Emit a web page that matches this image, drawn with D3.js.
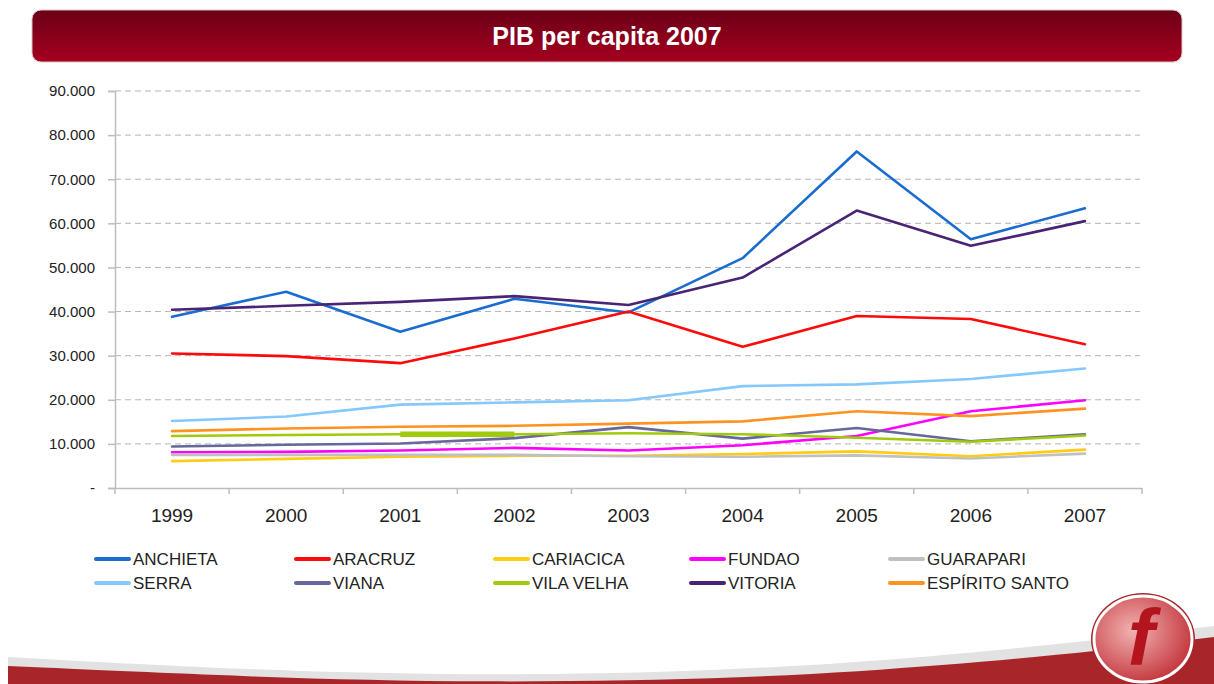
<!DOCTYPE html>
<html>
<head>
<meta charset="utf-8">
<script src="https://cdn.jsdelivr.net/npm/d3@7"></script>
<style>
  body { margin: 0; background: #fff; }
  svg { display: block; }
  text { font-family: Arial, "Liberation Sans", sans-serif; }
</style>
</head>
<body>
<div id="chart"></div>
<script>
var width = 1214,
    height = 684;

// PIB per capita (R$) by municipality
var years = ["1999", "2000", "2001", "2002", "2003", "2004", "2005", "2006", "2007"];
var yTicks = [0, 10000, 20000, 30000, 40000, 50000, 60000, 70000, 80000, 90000];

var anchieta      = [38800, 44500, 35400, 42900, 39800, 52100, 76300, 56400, 63400];
var aracruz       = [30500, 29900, 28300, 33900, 40000, 32000, 39000, 38300, 32600];
var cariacica     = [6100, 6600, 7100, 7300, 7300, 7700, 8300, 7200, 8700];
var fundao        = [8100, 8200, 8500, 9100, 8500, 9700, 11800, 17400, 19900];
var guarapari     = [7500, 7500, 7500, 7500, 7200, 7100, 7400, 6700, 7800];
var serra         = [15200, 16200, 18900, 19400, 19900, 23100, 23500, 24700, 27100];
var viana         = [9400, 9800, 10100, 11300, 13800, 11200, 13600, 10600, 12200];
var vilaVelha     = [11800, 12000, 12200, 12200, 12400, 12200, 11400, 10500, 11900];
var vitoria       = [40400, 41300, 42200, 43500, 41500, 47700, 62900, 54900, 60500];
var espiritoSanto = [12900, 13500, 13900, 14100, 14600, 15100, 17400, 16300, 18000];

var seriesNames = ["ANCHIETA", "ARACRUZ", "CARIACICA", "FUNDAO", "GUARAPARI",
                   "SERRA", "VIANA", "VILA VELHA", "VITORIA", "ESPÍRITO SANTO"];
var seriesValues = [anchieta, aracruz, cariacica, fundao, guarapari,
                    serra, viana, vilaVelha, vitoria, espiritoSanto];
var seriesColors = ["#1a6ccf", "#ff0a0a", "#ffcc11", "#ff00ff", "#c0c0c0",
                    "#85c8fb", "#66679a", "#9fcb0c", "#4a2474", "#ff9322"];

var svg = d3.select("#chart").append("svg")
    .attr("width", width)
    .attr("height", height);

svg.append("rect").attr("width", width).attr("height", height).attr("fill", "#fff");

var defs = svg.append("defs");

// title banner
var banner = defs.append("linearGradient").attr("id", "banner")
    .attr("x1", 0).attr("y1", 0).attr("x2", 0).attr("y2", 1);
banner.append("stop").attr("offset", "0%").attr("stop-color", "#6b0016");
banner.append("stop").attr("offset", "100%").attr("stop-color", "#a6001f");

svg.append("rect")
    .attr("x", 32).attr("y", 10)
    .attr("width", 1150).attr("height", 52)
    .attr("rx", 9)
    .attr("fill", "url(#banner)")
    .attr("stroke", "#d9c4c8")
    .attr("stroke-width", 1);

svg.append("text")
    .attr("x", 607)
    .attr("y", 45)
    .style("text-anchor", "middle")
    .style("font-weight", "bold")
    .style("font-size", "25px")
    .style("fill", "#fff")
    .text("PIB per capita 2007");

// scales
var x = d3.scaleBand().domain(years).range([115, 1142]);
var y = d3.scaleLinear().domain([0, 90000]).range([488, 91]);

var ptFormat = d3.formatLocale({ decimal: ",", thousands: ".", grouping: [3], currency: ["", ""] }).format(",.0f");

// dashed gridlines
svg.append("g")
  .selectAll("line")
  .data(yTicks.slice(1))
  .enter()
  .append("line")
    .attr("x1", 115)
    .attr("x2", 1140)
    .attr("y1", function (d) { return y(d); })
    .attr("y2", function (d) { return y(d); })
    .attr("stroke", "#b4b4b4")
    .attr("stroke-width", 1)
    .attr("stroke-dasharray", "6,4");

// y axis
var yAxis = svg.append("g")
    .attr("transform", "translate(115,0)")
    .call(d3.axisLeft(y)
      .tickValues(yTicks)
      .tickSize(7)
      .tickPadding(13)
      .tickFormat(function (d) { return d === 0 ? "-" : ptFormat(d); }));
yAxis.select(".domain").attr("stroke", "#bdbdbd").attr("stroke-width", 1.5);
yAxis.selectAll(".tick line").attr("stroke", "#bdbdbd").attr("stroke-width", 1.5);
yAxis.selectAll("text")
    .style("font-size", "15px")
    .style("fill", "#222")
    .style("font-family", "Arial, 'Liberation Sans', sans-serif");

// x axis
var xAxis = svg.append("g")
    .attr("transform", "translate(0,488)")
    .call(d3.axisBottom(x).tickSize(0).tickSizeOuter(0).tickPadding(21));
xAxis.select(".domain").attr("stroke", "#bdbdbd").attr("stroke-width", 1.5);
xAxis.selectAll("text")
    .style("font-size", "19px")
    .style("fill", "#222")
    .style("font-family", "Arial, 'Liberation Sans', sans-serif");

// category boundary ticks
svg.append("g")
  .selectAll("line")
  .data(years.concat(["end"]))
  .enter()
  .append("line")
    .attr("x1", function (d) { return d === "end" ? x.range()[1] : x(d); })
    .attr("x2", function (d) { return d === "end" ? x.range()[1] : x(d); })
    .attr("y1", 488)
    .attr("y2", 494)
    .attr("stroke", "#bdbdbd")
    .attr("stroke-width", 1.5);

// lines
var line = d3.line()
    .x(function (d, i) { return x(years[i]) + x.bandwidth() / 2; })
    .y(function (d) { return y(d); });

svg.append("g")
  .selectAll("path")
  .data(seriesValues)
  .enter()
  .append("path")
    .attr("d", line)
    .attr("fill", "none")
    .attr("stroke", function (d, i) { return seriesColors[i]; })
    .attr("stroke-width", 2.6)
    .attr("stroke-linejoin", "round")
    .attr("stroke-linecap", "round");

// the slide shows a thicker stretch of VILA VELHA between 2001 and 2002
var segLine = d3.line()
    .x(function (d, i) { return x(years[i + 2]) + x.bandwidth() / 2; })
    .y(function (d) { return y(d); });
svg.append("path")
    .attr("d", segLine(vilaVelha.slice(2, 4)))
    .attr("fill", "none")
    .attr("stroke", seriesColors[7])
    .attr("stroke-width", 5.5);

// legend
var legendCols = [95, 295, 494, 690, 889];
var legend = svg.append("g")
  .selectAll("g")
  .data(seriesNames)
  .enter()
  .append("g")
    .attr("transform", function (d, i) {
      return "translate(" + legendCols[i % 5] + "," + (559 + Math.floor(i / 5) * 24) + ")";
    });

legend.append("line")
    .attr("x1", 1).attr("x2", 34)
    .attr("y1", 0).attr("y2", 0)
    .attr("stroke", function (d, i) { return seriesColors[i]; })
    .attr("stroke-width", 4)
    .attr("stroke-linecap", "round");

legend.append("text")
    .attr("x", 38)
    .attr("y", 6)
    .style("font-size", "17px")
    .style("fill", "#222")
    .text(function (d) { return d; });

// bottom swoosh decoration
var curve = d3.line().curve(d3.curveBasis);
var greyTop = [[8, 657], [200, 668], [450, 676], [700, 672], [900, 660], [1100, 640], [1214, 626]];
var redTop = [[8, 666], [250, 677], [480, 683], [750, 679], [950, 665], [1100, 651], [1214, 637]];

svg.append("path")
    .attr("d", curve(greyTop) + "L1214,684L8,684Z")
    .attr("fill", "#e2e2e2");
svg.append("path")
    .attr("d", curve(redTop) + "L1214,684L8,684Z")
    .attr("fill", "#a8262a");

// logo
var logoGrad = defs.append("radialGradient").attr("id", "logo")
    .attr("cx", "40%").attr("cy", "40%").attr("r", "65%");
logoGrad.append("stop").attr("offset", "0%").attr("stop-color", "#f2b2b2");
logoGrad.append("stop").attr("offset", "100%").attr("stop-color", "#c2343a");

svg.append("ellipse")
    .attr("cx", 1143).attr("cy", 639)
    .attr("rx", 52).attr("ry", 46)
    .attr("fill", "#a8262a");
svg.append("ellipse")
    .attr("cx", 1143).attr("cy", 639)
    .attr("rx", 49).attr("ry", 43)
    .attr("fill", "url(#logo)")
    .attr("stroke", "#fff")
    .attr("stroke-width", 3);

svg.append("text")
    .attr("x", 1141)
    .attr("y", 665)
    .style("text-anchor", "middle")
    .style("font-size", "80px")
    .style("font-weight", "bold")
    .style("font-style", "italic")
    .style("fill", "#b3141d")
    .text("f");
</script>
</body>
</html>
